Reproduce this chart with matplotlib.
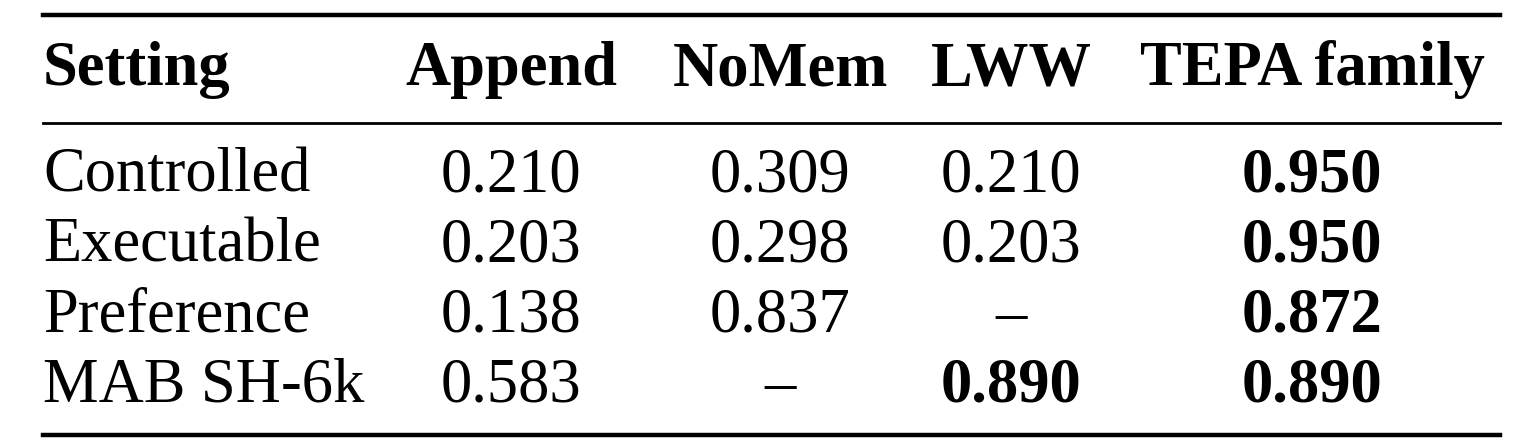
import matplotlib.pyplot as plt

# table data
columns = ["Setting", "Append", "NoMem", "LWW", "TEPA family"]
settings = ["Controlled", "Executable", "Preference", "MAB SH-6k"]
append = ["0.210", "0.203", "0.138", "0.583"]
nomem = ["0.309", "0.298", "0.837", "–"]
lww = ["0.210", "0.203", "–", "0.890"]
tepa = ["0.950", "0.950", "0.872", "0.890"]
bold_cells = {(3, 2), (0, 3), (1, 3), (2, 3), (3, 3)}  # (row, value col)

plt.rcParams["font.family"] = ["Liberation Serif", "DejaVu Serif"]

fig = plt.figure(figsize=(15.19, 4.48), dpi=100)
ax = fig.add_axes([0, 0, 1, 1])
ax.set_xlim(0, 1519)
ax.set_ylim(448, 0)
ax.axis("off")

x_left, x_right = 43, 1500
ax.plot([x_left, x_right], [15, 15], color="black", lw=3.2)
ax.plot([x_left, x_right], [123, 123], color="black", lw=2.0)
ax.plot([x_left, x_right], [435, 435], color="black", lw=3.2)

col_x = [43, 511, 780, 1011, 1312]
fs = 45
header_y = 85
ax.text(col_x[0], header_y, columns[0], ha="left", va="baseline", fontsize=fs, fontweight="bold")
for x, name in zip(col_x[1:], columns[1:]):
    ax.text(x, header_y, name, ha="center", va="baseline", fontsize=fs, fontweight="bold")

row_y = [192, 262, 332, 402]
for i, (s, vals) in enumerate(zip(settings, zip(append, nomem, lww, tepa))):
    ax.text(col_x[0], row_y[i], s, ha="left", va="baseline", fontsize=fs)
    for j, v in enumerate(vals):
        w = "bold" if (i, j) in bold_cells else "normal"
        ax.text(col_x[j + 1], row_y[i], v, ha="center", va="baseline", fontsize=fs, fontweight=w)

fig.savefig("out.png", dpi=100)
